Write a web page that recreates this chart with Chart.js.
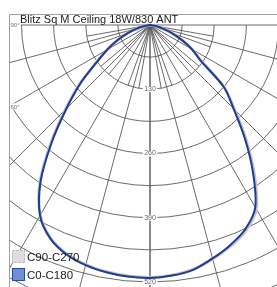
<!DOCTYPE html>
<html><head><meta charset="utf-8">
<script src="https://cdn.jsdelivr.net/npm/chart.js@4.4.1/dist/chart.umd.min.js"></script>
<style>html,body{margin:0;padding:0;background:#fff;}canvas{display:block;}</style>
</head><body>
<canvas id="c" width="277" height="287"></canvas>
<script>
// ---- data ----
const chartTitle = 'Blitz Sq M Ceiling 18W/830 ANT';
const gammaAngles = [0,5,10,15,20,25,30,35,40,45,50,55,60,65,70,75,80,85,90];
const c0Values   = [512,509,503,489,474,456,426,363,298,239,195,124,98,70,46,26,12,4,0];
const c180Values = [512,511,508,503,494,477,445,386,309,239,184,132,100,72,47,27,12,4,0];
const c90Values  = [511,508,502,490,476,459,430,368,302,242,196,127,99,71,46,26,12,4,0];
const c270Values = [511,510,507,502,493,476,444,388,312,242,186,134,101,73,48,27,12,4,0];
const seriesNames = ['C0-C180','C90-C270'];
const ringValues = [65,130,195,260,325,390,455,520,585,650];
const ringLabels = [130,260,390,520];
const majorSpokes = [0,15,30,45,60,75,90];
const minorSpokes = [10,20,40,50,70,80];
const angleLabels = [90,60];

// ---- geometry (layout only) ----
const W = 277, H = 287, CX = 150, CY = 25, FL = 9, FT = 15;
const K = 257 / 520; // px per cd
const minorReach = 130;

function curve(leftVals, rightVals) {
  const pts = [];
  for (let i = gammaAngles.length - 1; i >= 0; i--) {
    const t = gammaAngles[i] * Math.PI / 180;
    pts.push({x: -leftVals[i] * Math.sin(t), y: -leftVals[i] * Math.cos(t)});
  }
  for (let i = 1; i < gammaAngles.length; i++) {
    const t = gammaAngles[i] * Math.PI / 180;
    pts.push({x: rightVals[i] * Math.sin(t), y: -rightVals[i] * Math.cos(t)});
  }
  return pts;
}

const FONT = '"Liberation Sans", Arial, sans-serif';

const gridPlugin = {
  id: 'polarGrid',
  beforeDatasetsDraw(chart) {
    const {ctx, chartArea: a, scales: {x, y}} = chart;
    const cx = x.getPixelForValue(0), cy = y.getPixelForValue(0);
    const pr = v => x.getPixelForValue(v) - cx;
    ctx.save();
    ctx.beginPath(); ctx.rect(a.left, a.top, a.right - a.left, a.bottom - a.top); ctx.clip();
    ctx.strokeStyle = '#505050'; ctx.lineWidth = 0.85;
    ringValues.forEach(v => { ctx.beginPath(); ctx.arc(cx, cy, pr(v), 0, Math.PI); ctx.stroke(); });
    const spoke = (g, len) => {
      const t = g * Math.PI / 180;
      [1, -1].forEach(s => {
        ctx.beginPath(); ctx.moveTo(cx, cy);
        ctx.lineTo(cx + s * len * Math.sin(t), cy + len * Math.cos(t)); ctx.stroke();
      });
    };
    majorSpokes.forEach(g => spoke(g, pr(3000)));
    minorSpokes.forEach(g => spoke(g, pr(minorReach)));
    // ring labels
    ctx.font = '7px ' + FONT; ctx.textAlign = 'center'; ctx.textBaseline = 'middle';
    ringLabels.forEach(v => {
      const py = cy + pr(v);
      const w = ctx.measureText(String(v)).width + 3;
      ctx.fillStyle = '#fff'; ctx.fillRect(cx - w / 2, py - 3, w, 6);
      ctx.fillStyle = '#666'; ctx.fillText(String(v), cx, py);
    });
    // angle labels on left frame
    ctx.textAlign = 'left'; ctx.font = '6px ' + FONT;
    angleLabels.forEach(g => {
      const t = g * Math.PI / 180;
      const dx = cx - a.left;
      const py = cy + dx / Math.tan(t);
      const txt = g + '°';
      const w = ctx.measureText(txt).width + 2;
      ctx.fillStyle = '#fff'; ctx.fillRect(a.left + 1, py - 3, w, 6);
      ctx.fillStyle = '#777'; ctx.fillText(txt, a.left + 1.5, py + 0.5);
    });
    ctx.restore();
  },
  afterDraw(chart) {
    const {ctx, chartArea: a} = chart;
    ctx.save();
    ctx.strokeStyle = '#a0a0a0'; ctx.lineWidth = 1;
    ctx.beginPath(); ctx.moveTo(a.left + 0.5, H); ctx.lineTo(a.left + 0.5, a.top - 0.5); ctx.lineTo(W, a.top - 0.5); ctx.stroke();
    ctx.fillStyle = '#1a1a1a'; ctx.font = '11px ' + FONT; ctx.textAlign = 'left'; ctx.textBaseline = 'alphabetic';
    ctx.fillText(chartTitle, 20, 23);
    // legend
    const items = [
      {name: seriesNames[1], fill: '#dedede', stroke: '#b0b0b0', dash: [2, 2], y: 250},
      {name: seriesNames[0], fill: '#6f8fd2', stroke: '#2c4a9c', dash: [], y: 268}
    ];
    items.forEach(it => {
      ctx.fillStyle = it.fill; ctx.fillRect(12, it.y, 13, 13);
      ctx.setLineDash(it.dash); ctx.strokeStyle = it.stroke; ctx.lineWidth = 1;
      ctx.strokeRect(12.5, it.y + 0.5, 12, 12); ctx.setLineDash([]);
      ctx.fillStyle = '#1a1a1a'; ctx.font = '11.5px ' + FONT;
      ctx.fillText(it.name, 27, it.y + 11);
    });
    ctx.restore();
  }
};

new Chart(document.getElementById('c'), {
  type: 'scatter',
  data: {
    datasets: [
      {label: seriesNames[0], data: curve(c180Values, c0Values), showLine: true, borderColor: '#1f3c94', borderWidth: 2, pointRadius: 0, tension: 0.3, order: 0},
      {label: seriesNames[1], data: curve(c270Values, c90Values), showLine: true, borderColor: '#c4c4c4', borderWidth: 3, pointRadius: 0, tension: 0.3, order: 1}
    ]
  },
  options: {
    responsive: false, animation: false, devicePixelRatio: 1,
    layout: {padding: {left: FL, top: FT, right: 0, bottom: 0}},
    plugins: {legend: {display: false}, tooltip: {enabled: false}, title: {display: false}},
    scales: {
      x: {type: 'linear', display: false, min: -(CX - FL) / K, max: (W - CX) / K},
      y: {type: 'linear', display: false, min: -(H - CY) / K, max: (CY - FT) / K}
    }
  },
  plugins: [gridPlugin]
});
</script>
</body></html>
